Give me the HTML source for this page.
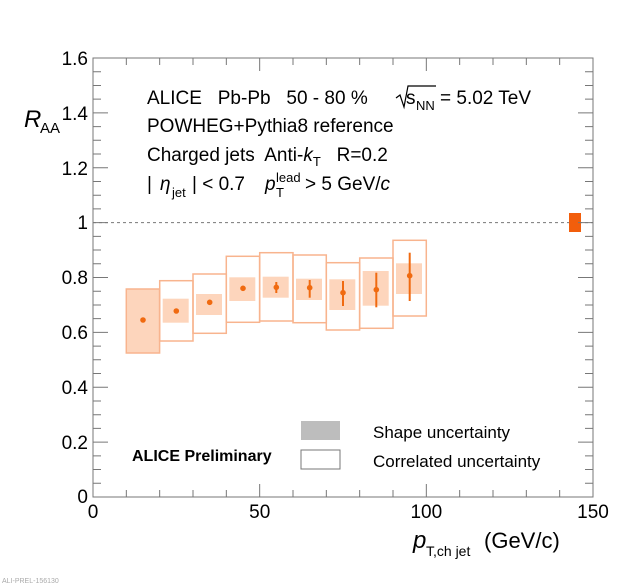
<!DOCTYPE html>
<html><head><meta charset="utf-8"><style>
html,body{margin:0;padding:0;background:#fff;}
svg{display:block;font-family:"Liberation Sans",Arial,sans-serif;}
text{white-space:pre;}
</style></head><body>
<svg width="620" height="586" viewBox="0 0 620 586" xmlns="http://www.w3.org/2000/svg">
<rect width="620" height="586" fill="#fff"/>
<line x1="93" y1="222.6" x2="593" y2="222.6" stroke="#777" stroke-width="1" stroke-dasharray="3,3"/>
<rect x="126.3" y="289" width="33.3" height="64" fill="#fdd5bc" stroke="#f8b48e" stroke-width="1.5"/>
<g fill="none" stroke="#f8b48e" stroke-width="1.5">
<rect x="159.7" y="280.7" width="33.3" height="60.3"/>
<rect x="193" y="274" width="33.3" height="59.3"/>
<rect x="226.3" y="256.3" width="33.3" height="66"/>
<rect x="259.7" y="252.7" width="33.3" height="68.3"/>
<rect x="293" y="255" width="33.3" height="67.7"/>
<rect x="326.3" y="262.7" width="33.3" height="67.3"/>
<rect x="359.7" y="258" width="33.3" height="70.3"/>
<rect x="393" y="240.3" width="33.3" height="75.7"/>
</g>
<g fill="#fdd5bc">
<rect x="162.7" y="298.7" width="26" height="24"/>
<rect x="196" y="294" width="26" height="21"/>
<rect x="229.3" y="277.3" width="26" height="23.7"/>
<rect x="262.7" y="276.7" width="26" height="21"/>
<rect x="296" y="278.7" width="26" height="21.3"/>
<rect x="329.3" y="279.3" width="26" height="30.7"/>
<rect x="362.7" y="271" width="26" height="34.7"/>
<rect x="396" y="263.3" width="26" height="30.7"/>
</g>
<g stroke="#f06a10" stroke-width="2">
<line x1="276.3" y1="282" x2="276.3" y2="293"/>
<line x1="309.7" y1="280" x2="309.7" y2="297.7"/>
<line x1="343" y1="281" x2="343" y2="306"/>
<line x1="376.3" y1="272.7" x2="376.3" y2="307.3"/>
<line x1="409.7" y1="252.7" x2="409.7" y2="301"/>
</g>
<g fill="#f06a10">
<circle cx="143" cy="320" r="2.8"/>
<circle cx="176.3" cy="311" r="2.8"/>
<circle cx="209.7" cy="302.3" r="2.8"/>
<circle cx="243" cy="288.3" r="2.8"/>
<circle cx="276.3" cy="287.3" r="2.8"/>
<circle cx="309.7" cy="287.7" r="2.8"/>
<circle cx="343" cy="292.7" r="2.8"/>
<circle cx="376.3" cy="289.7" r="2.8"/>
<circle cx="409.7" cy="275.7" r="2.8"/>
</g>
<rect x="569" y="213" width="12" height="19" fill="#f25e0c"/>
<rect x="93" y="58" width="500" height="439" fill="none" stroke="#777" stroke-width="1"/>
<path fill="none" stroke="#777" stroke-width="1" d="
M93 497v-13M126.33 497v-7M159.67 497v-7M193 497v-7M226.33 497v-7M259.67 497v-13M293 497v-7M326.33 497v-7M359.67 497v-7M393 497v-7M426.33 497v-13M459.67 497v-7M493 497v-7M526.33 497v-7M559.67 497v-7M593 497v-13
M93 58v13M126.33 58v7M159.67 58v7M193 58v7M226.33 58v7M259.67 58v13M293 58v7M326.33 58v7M359.67 58v7M393 58v7M426.33 58v13M459.67 58v7M493 58v7M526.33 58v7M559.67 58v7M593 58v13
M93 497h15M93 483.28h8M93 469.56h8M93 455.84h8M93 442.13h15M93 428.41h8M93 414.69h8M93 400.97h8M93 387.25h15M93 373.53h8M93 359.81h8M93 346.09h8M93 332.38h15M93 318.66h8M93 304.94h8M93 291.22h8M93 277.5h15M93 263.78h8M93 250.06h8M93 236.34h8M93 222.63h15M93 208.91h8M93 195.19h8M93 181.47h8M93 167.75h15M93 154.03h8M93 140.31h8M93 126.59h8M93 112.88h15M93 99.16h8M93 85.44h8M93 71.72h8M93 58h15
M593 497h-15M593 483.28h-8M593 469.56h-8M593 455.84h-8M593 442.13h-15M593 428.41h-8M593 414.69h-8M593 400.97h-8M593 387.25h-15M593 373.53h-8M593 359.81h-8M593 346.09h-8M593 332.38h-15M593 318.66h-8M593 304.94h-8M593 291.22h-8M593 277.5h-15M593 263.78h-8M593 250.06h-8M593 236.34h-8M593 222.63h-15M593 208.91h-8M593 195.19h-8M593 181.47h-8M593 167.75h-15M593 154.03h-8M593 140.31h-8M593 126.59h-8M593 112.88h-15M593 99.16h-8M593 85.44h-8M593 71.72h-8M593 58h-15"/>
<g font-size="19" fill="#000" text-anchor="end">
<text x="88" y="65">1.6</text>
<text x="88" y="120">1.4</text>
<text x="88" y="175">1.2</text>
<text x="88" y="229">1</text>
<text x="88" y="284">0.8</text>
<text x="88" y="339">0.6</text>
<text x="88" y="394">0.4</text>
<text x="88" y="449">0.2</text>
<text x="88" y="503">0</text>
</g>
<g font-size="19" fill="#000" text-anchor="middle">
<text x="93" y="518">0</text>
<text x="259.7" y="518">50</text>
<text x="426.3" y="518">100</text>
<text x="593" y="518">150</text>
</g>
<text x="24" y="127" font-size="24" font-style="italic">R</text>
<text x="40" y="133" font-size="15">AA</text>
<text x="413" y="548" font-size="24" font-style="italic">p</text>
<text x="426" y="556" font-size="14">T,ch jet</text>
<text x="484" y="548" font-size="22">(GeV/c)</text>
<g font-size="19" fill="#000">
<text x="147" y="104">ALICE   Pb-Pb   50 - 80 %</text>
<text x="406" y="104">s</text>
<text x="416" y="110" font-size="13">NN</text>
<text x="440" y="104">= 5.02 TeV</text>
<text x="147" y="132">POWHEG+Pythia8 reference</text>
<text x="147" y="161">Charged jets  Anti-<tspan font-style="italic">k</tspan><tspan font-size="13" dy="5">T</tspan><tspan dy="-5">   R=0.2</tspan></text>
<text x="147" y="190">|</text>
<text x="160" y="190" font-style="italic">η</text>
<text x="172" y="197" font-size="13">jet</text>
<text x="192" y="190">| &lt; 0.7</text>
<text x="265" y="190" font-style="italic">p</text>
<text x="276" y="197" font-size="13">T</text>
<text x="276" y="182" font-size="13">lead</text>
<text x="305" y="190">&gt; 5 GeV/<tspan font-style="italic">c</tspan></text>
</g>
<path d="M396 98 L400 95 L404 107 L408 86 L436 86" fill="none" stroke="#000" stroke-width="1.2"/>
<text x="132" y="461" font-size="16" font-weight="bold">ALICE Preliminary</text>
<rect x="301" y="421" width="39" height="19" fill="#bdbdbd"/>
<rect x="301" y="450" width="39" height="19" fill="#fff" stroke="#777" stroke-width="1"/>
<text x="373" y="438" font-size="17">Shape uncertainty</text>
<text x="373" y="467" font-size="17">Correlated uncertainty</text>
<text x="2" y="583" font-size="7" fill="#aaa">ALI-PREL-156130</text>
</svg>
</body></html>
